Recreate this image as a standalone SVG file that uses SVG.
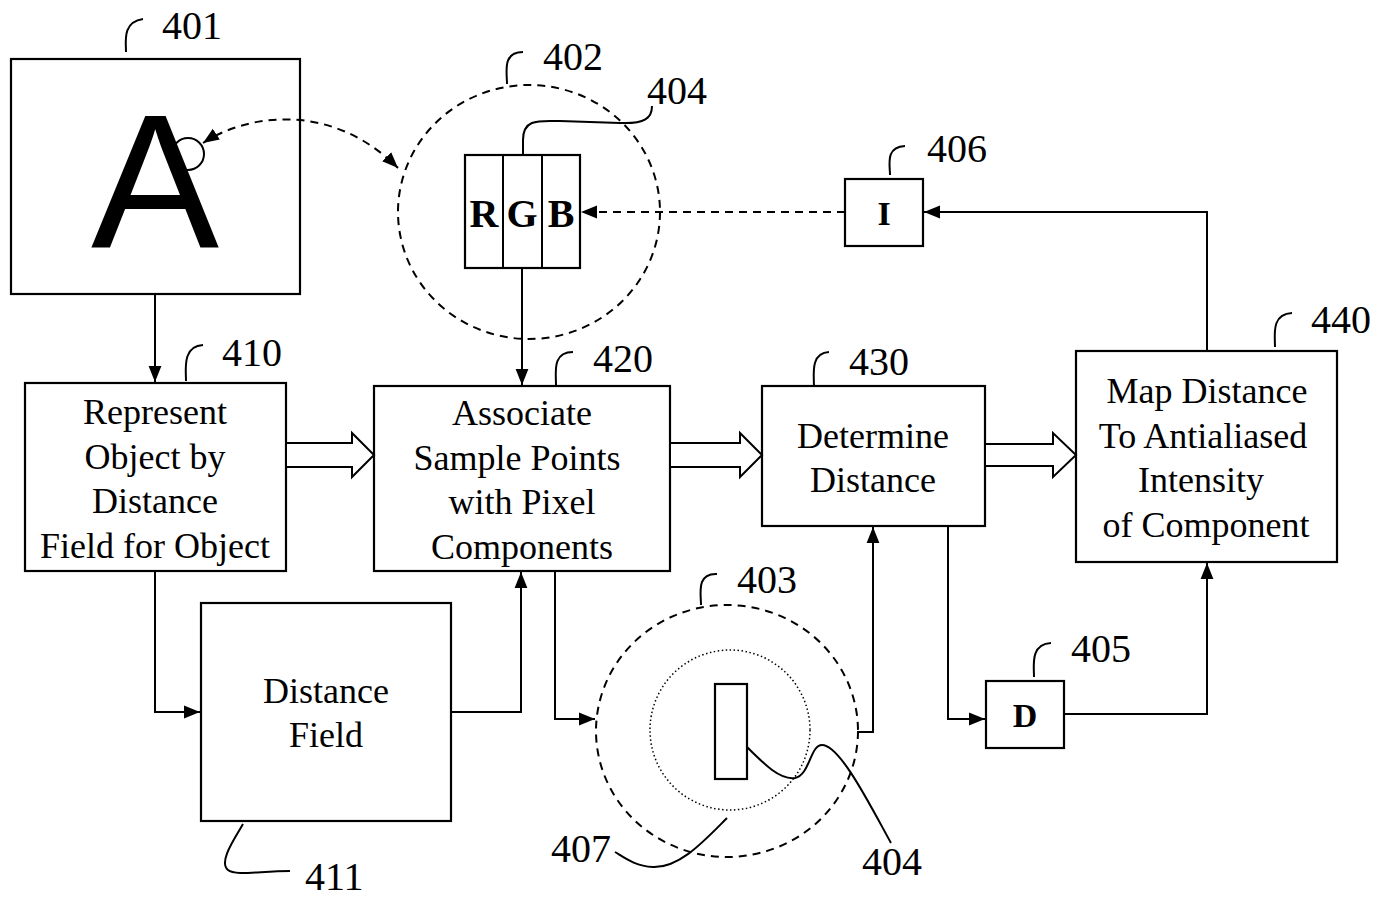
<svg xmlns="http://www.w3.org/2000/svg" width="1382" height="898" viewBox="0 0 1382 898">
<defs>
<style>
.box{fill:#fff;stroke:#000;stroke-width:2.2}
.ln{fill:none;stroke:#000;stroke-width:2}
.dash{fill:none;stroke:#000;stroke-width:2;stroke-dasharray:8 6}
.dot{fill:none;stroke:#000;stroke-width:1.5;stroke-dasharray:1.5 2.5}
.t{font-family:"Liberation Serif","Times New Roman",serif;font-size:36px;fill:#000;text-anchor:middle}
.b{font-family:"Liberation Serif","Times New Roman",serif;font-size:40px;font-weight:bold;fill:#000;text-anchor:middle}
.bs{font-family:"Liberation Serif","Times New Roman",serif;font-size:34px;font-weight:bold;fill:#000;text-anchor:middle}
.lbl{font-family:"Liberation Serif","Times New Roman",serif;font-size:40px;fill:#000}
.blk{fill:#fff;stroke:#000;stroke-width:2}
</style>
<marker id="ah" viewBox="0 0 10 10" refX="10" refY="5" markerWidth="8" markerHeight="8" markerUnits="strokeWidth" orient="auto-start-reverse">
<path d="M0,1 L10,5 L0,9 z" fill="#000"/>
</marker>
</defs>
<rect width="1382" height="898" fill="#fff"/>

<g id="n401">
<rect class="box" x="11" y="59" width="289" height="235"/>
<circle cx="188" cy="154" r="16" class="ln"/>
<text x="155" y="248" font-family="Liberation Sans, Arial, sans-serif" font-size="192" text-anchor="middle" fill="#000">A</text>
</g>

<g id="n402">
<ellipse class="dash" cx="529" cy="212" rx="131" ry="127"/>
<rect class="box" x="465" y="155" width="115" height="113"/>
<line class="ln" x1="503" y1="155" x2="503" y2="268"/>
<line class="ln" x1="542" y1="155" x2="542" y2="268"/>
<text class="b" x="484" y="227">R</text>
<text class="b" x="522" y="227">G</text>
<text class="b" x="561" y="227">B</text>
</g>

<g id="n406">
<rect class="box" x="845" y="179" width="78" height="67"/>
<text class="bs" x="884" y="225">I</text>
</g>

<g id="n410">
<rect class="box" x="25" y="383" width="261" height="188"/>
<text class="t" x="155" y="424">Represent</text>
<text class="t" x="155" y="469">Object by</text>
<text class="t" x="155" y="513">Distance</text>
<text class="t" x="155" y="558">Field for Object</text>
</g>

<g id="n420">
<rect class="box" x="374" y="386" width="296" height="185"/>
<text class="t" x="522" y="425">Associate</text>
<text class="t" x="517" y="470">Sample Points</text>
<text class="t" x="522" y="514">with Pixel</text>
<text class="t" x="522" y="559">Components</text>
</g>

<g id="n430">
<rect class="box" x="762" y="386" width="223" height="140"/>
<text class="t" x="873" y="448">Determine</text>
<text class="t" x="873" y="492">Distance</text>
</g>

<g id="n440">
<rect class="box" x="1076" y="351" width="261" height="211"/>
<text class="t" x="1207" y="403">Map Distance</text>
<text class="t" x="1203" y="448">To Antialiased</text>
<text class="t" x="1201" y="492">Intensity</text>
<text class="t" x="1206" y="537">of Component</text>
</g>

<g id="n411">
<rect class="box" x="201" y="603" width="250" height="218"/>
<text class="t" x="326" y="703">Distance</text>
<text class="t" x="326" y="747">Field</text>
</g>

<g id="n403">
<ellipse class="dash" cx="727" cy="731" rx="131" ry="126"/>
<circle class="dot" cx="730" cy="730" r="80"/>
<rect class="box" x="715" y="684" width="32" height="95"/>
</g>

<g id="n405">
<rect class="box" x="986" y="681" width="78" height="67"/>
<text class="bs" x="1025" y="727">D</text>
</g>

<g id="connectors">
<path class="dash" d="M203,143 C245,115 330,100 398,168" marker-start="url(#ah)" marker-end="url(#ah)"/>
<line class="dash" x1="845" y1="212" x2="581" y2="212" marker-end="url(#ah)"/>
<path class="ln" d="M1207,351 L1207,212 L924,212" marker-end="url(#ah)"/>
<line class="ln" x1="522" y1="268" x2="522" y2="385" marker-end="url(#ah)"/>
<line class="ln" x1="155" y1="294" x2="155" y2="382" marker-end="url(#ah)"/>
<path class="ln" d="M155,571 L155,712 L200,712" marker-end="url(#ah)"/>
<path class="ln" d="M451,712 L521,712 L521,572" marker-end="url(#ah)"/>
<path class="ln" d="M555,571 L555,719 L595,719" marker-end="url(#ah)"/>
<path class="ln" d="M858,732 L873,732 L873,527" marker-end="url(#ah)"/>
<path class="ln" d="M948,526 L948,719 L985,719" marker-end="url(#ah)"/>
<path class="ln" d="M1064,714 L1207,714 L1207,563" marker-end="url(#ah)"/>
<path class="blk" d="M286,443 L352,443 L352,433 L374,455 L352,477 L352,467 L286,467 z"/>
<path class="blk" d="M670,443 L740,443 L740,433 L762,455 L740,477 L740,467 L670,467 z"/>
<path class="blk" d="M985,444 L1053,444 L1053,433 L1076,455 L1053,477 L1053,466 L985,466 z"/>
</g>

<g id="labels">
<path class="ln" d="M126,52 C126,42 122,22 143,19"/>
<text class="lbl" x="162" y="39">401</text>
<path class="ln" d="M507,84 C507,72 502,52 523,52"/>
<text class="lbl" x="543" y="70">402</text>
<path class="ln" d="M523,155 L523,140 C523,118 540,121 560,121 L620,123 C645,124 652,118 652,106"/>
<text class="lbl" x="647" y="104">404</text>
<path class="ln" d="M890,175 C890,165 885,147 905,146"/>
<text class="lbl" x="927" y="162">406</text>
<path class="ln" d="M186,381 C186,370 182,346 203,345"/>
<text class="lbl" x="222" y="366">410</text>
<path class="ln" d="M556,385 C556,372 552,352 573,352"/>
<text class="lbl" x="593" y="372">420</text>
<path class="ln" d="M814,387 C814,375 810,353 829,352"/>
<text class="lbl" x="849" y="375">430</text>
<path class="ln" d="M1275,347 C1275,335 1271,314 1292,313"/>
<text class="lbl" x="1311" y="333">440</text>
<path class="ln" d="M1034,677 C1034,666 1030,644 1051,643"/>
<text class="lbl" x="1071" y="662">405</text>
<path class="ln" d="M701,605 C701,594 696,573 717,574"/>
<text class="lbl" x="737" y="593">403</text>
<path class="ln" d="M747,747 C765,765 780,780 795,778 C810,775 810,745 822,745 C840,745 870,805 891,843"/>
<text class="lbl" x="862" y="875">404</text>
<path class="ln" d="M727,818 C705,840 680,868 653,867 C635,866 625,858 615,852"/>
<text class="lbl" x="551" y="862">407</text>
<path class="ln" d="M243,824 C235,838 218,862 228,870 C235,876 260,871 290,871"/>
<text class="lbl" x="305" y="890">411</text>
</g>
</svg>
